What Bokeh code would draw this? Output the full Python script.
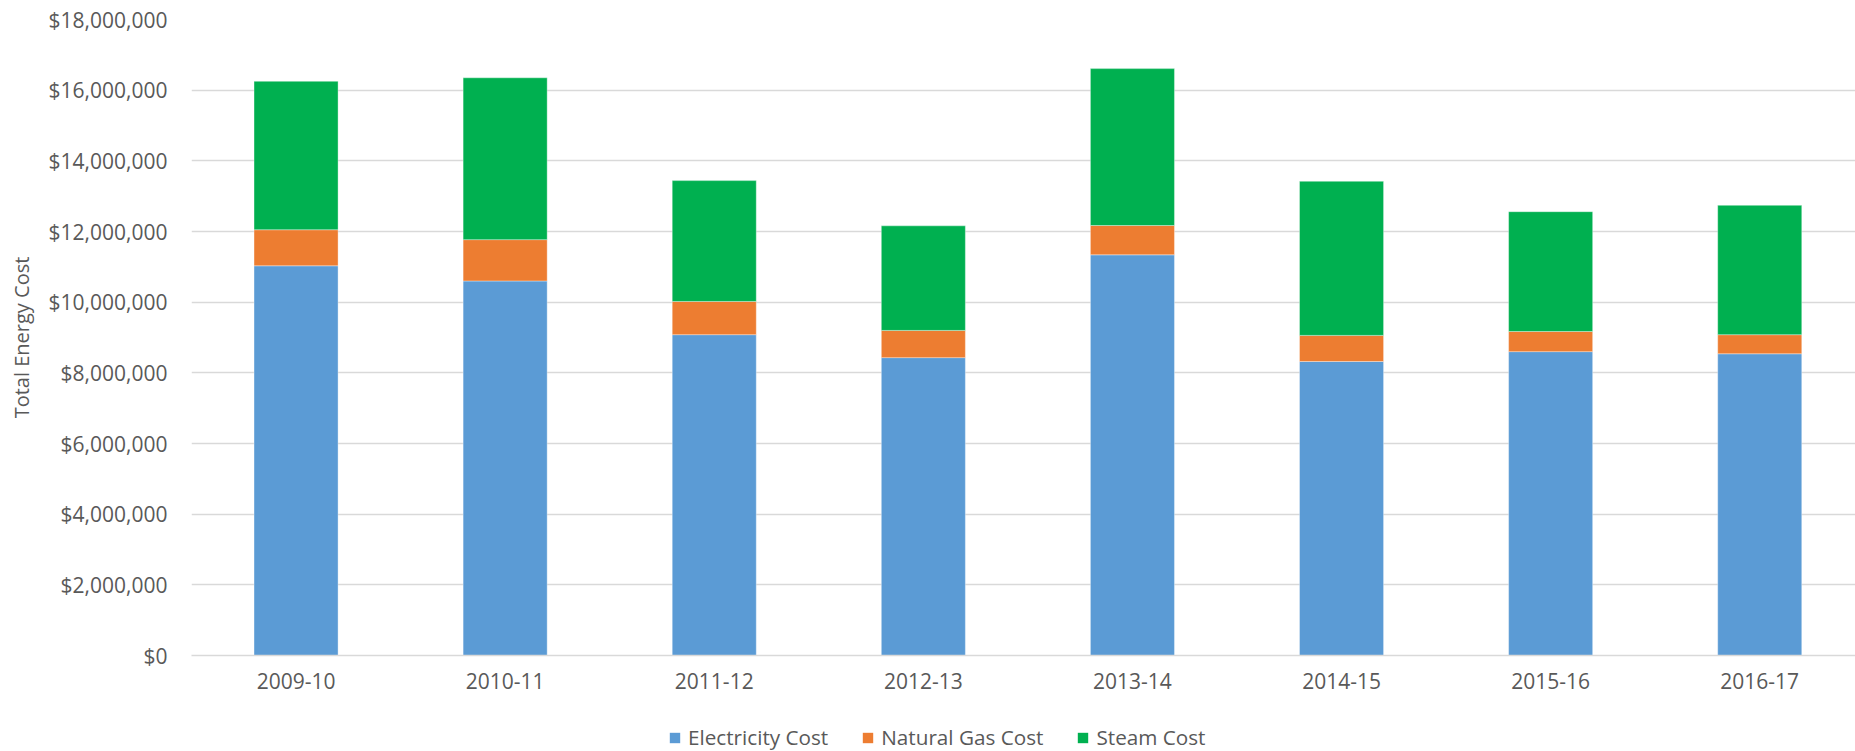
from bokeh.plotting import figure
from bokeh.layouts import column
from bokeh.models import (ColumnDataSource, Range1d, FixedTicker, NumeralTickFormatter,
                          Legend, LegendItem)
from bokeh.embed import file_html
from bokeh.resources import INLINE

categories = ["2009-10", "2010-11", "2011-12", "2012-13", "2013-14", "2014-15", "2015-16", "2016-17"]
electricity = [11030000, 10600000, 9080000, 8430000, 11340000, 8320000, 8600000, 8540000]
natural_gas = [1020000, 1170000, 940000, 770000, 830000, 740000, 570000, 540000]
steam = [4200000, 4580000, 3420000, 2960000, 4440000, 4360000, 3390000, 3660000]
series = ["Electricity Cost", "Natural Gas Cost", "Steam Cost"]
colors = ["#5B9BD5", "#ED7D31", "#00B050"]
y_ticks = [0, 2000000, 4000000, 6000000, 8000000, 10000000, 12000000, 14000000, 16000000, 18000000]

FONT = "Open Sans"
TXT = "#595959"
FS = "21px"

pos = [i + 0.5 for i in range(len(categories))]
src = ColumnDataSource(dict(x=pos, e=electricity, g=natural_gas, s=steam))

p = figure(width=1855, height=710, output_backend="svg", toolbar_location=None,
           x_range=Range1d(0, 7.958), y_range=Range1d(0, 18000000),
           min_border_left=191, min_border_top=19, min_border_right=0, min_border_bottom=55)
p.outline_line_color = None
p.background_fill_color = "white"
p.border_fill_color = "white"

renderers = p.vbar_stack(["e", "g", "s"], x="x", width=0.402, source=src,
                         fill_color=colors, line_color="white", line_width=0.6, line_alpha=0.6)

# axes
p.yaxis.ticker = FixedTicker(ticks=y_ticks)
p.yaxis.formatter = NumeralTickFormatter(format="$0,0")
p.yaxis.axis_line_color = None
p.yaxis.major_tick_line_color = None
p.yaxis.minor_tick_line_color = None
p.yaxis.major_tick_out = 0
p.yaxis.major_label_standoff = 24
p.yaxis.major_label_text_font = FONT
p.yaxis.major_label_text_font_size = FS
p.yaxis.major_label_text_color = TXT
p.yaxis.axis_label = "Total Energy Cost"
p.yaxis.axis_label_text_font = FONT
p.yaxis.axis_label_text_font_size = "20px"
p.yaxis.axis_label_text_font_style = "normal"
p.yaxis.axis_label_text_color = TXT
p.yaxis.axis_label_standoff = 11

p.xaxis.ticker = FixedTicker(ticks=pos)
p.xaxis.major_label_overrides = {pos[i]: categories[i] for i in range(len(categories))}
p.xaxis.axis_line_color = "#D9D9D9"
p.xaxis.axis_line_width = 1.5
p.xaxis.major_tick_line_color = None
p.xaxis.minor_tick_line_color = None
p.xaxis.major_tick_out = 0
p.xaxis.major_label_standoff = 17
p.xaxis.major_label_text_font = FONT
p.xaxis.major_label_text_font_size = FS
p.xaxis.major_label_text_color = TXT

p.xgrid.grid_line_color = None
p.ygrid.ticker = FixedTicker(ticks=y_ticks)
p.ygrid.grid_line_color = "#D9D9D9"
p.ygrid.grid_line_width = 1.5

# legend strip below the chart (legend swatch proxies live outside its visible range)
lf = figure(width=1855, height=41, output_backend="svg", toolbar_location=None,
            x_range=Range1d(0, 1), y_range=Range1d(0, 1),
            x_axis_type=None, y_axis_type=None,
            min_border_left=0, min_border_right=0, min_border_top=0, min_border_bottom=0)
lf.outline_line_color = None
lf.grid.grid_line_color = None
swatches = [lf.vbar(x=[-5], top=[-5], bottom=[-6], width=0.1, fill_color=colors[i], line_color=None)
            for i in range(3)]

legend = Legend(items=[LegendItem(label=series[i], renderers=[swatches[i]]) for i in range(3)],
                orientation="horizontal", location=(477, 0),
                padding=0, margin=0, spacing=33, glyph_width=13, glyph_height=13,
                label_standoff=7, label_height=20, label_text_font=FONT, label_text_font_size="20.7px",
                label_text_color=TXT, border_line_color=None, background_fill_alpha=0)
lf.add_layout(legend, "center")

open("out.html", "w").write(file_html(column(p, lf, spacing=0), INLINE))
